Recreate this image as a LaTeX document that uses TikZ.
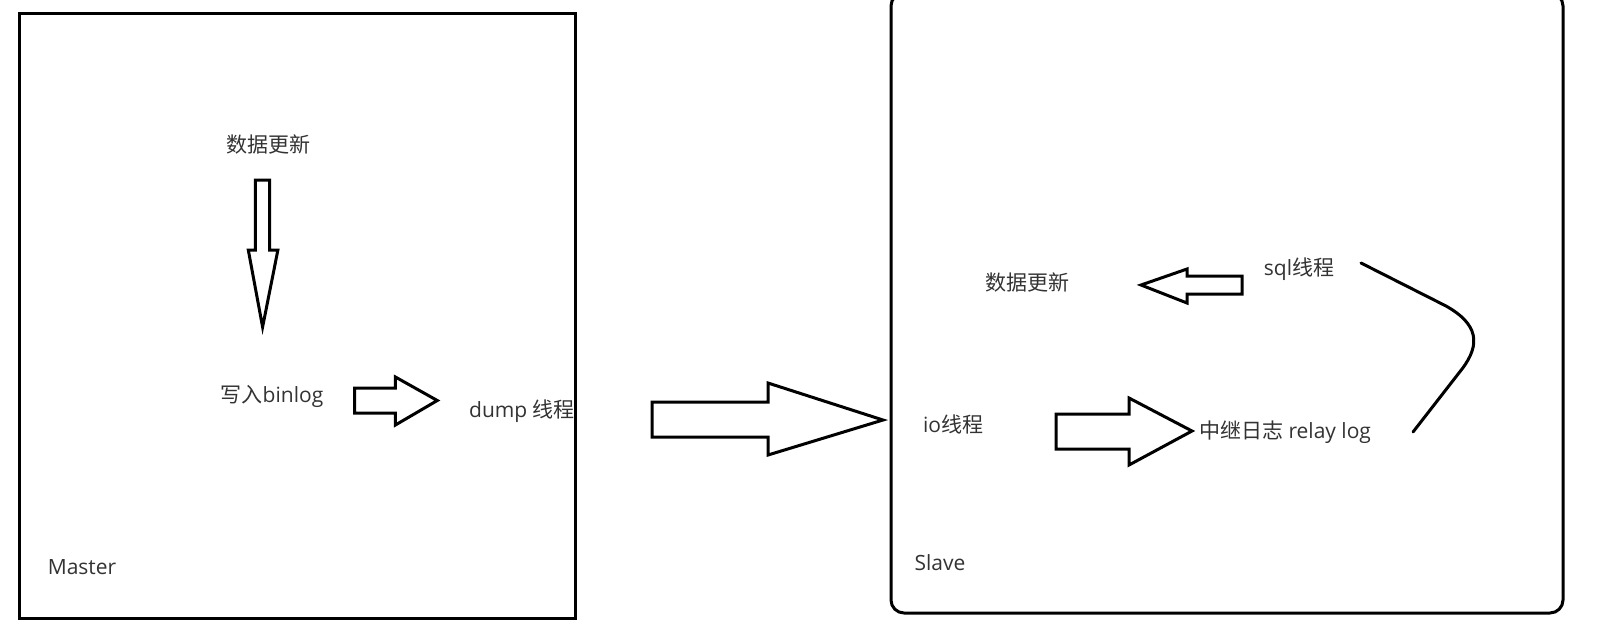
\documentclass[tikz,border=0pt]{standalone}
\usepackage{fontspec}
\setmainfont{Open Sans}
\newfontfamily\cjk{Noto Sans CJK SC}
\begin{document}
\begin{tikzpicture}[x=1pt,y=-1pt,
  frame/.style={draw=black, line width=3pt},
  blockarrow/.style={draw=black, line width=3pt, fill=white, line join=miter},
  lbl/.style={inner sep=0pt, text=black!80, font=\fontsize{21}{25}\selectfont}]
\useasboundingbox (0,0) rectangle (1602,641);
\fill[white] (0,0) rectangle (1602,641);
% frames
\draw[frame] (19.5,13.5) rectangle (575,618);
\begin{scope}
\clip (0,0) rectangle (1602,641);
\draw[frame, rounded corners=13pt] (891,-7) rectangle (1563,613);
\end{scope}
% Master side labels
\node[lbl] (mupd) at (268,145) {\cjk 数据更新};
\node[lbl] (mbin) at (272,396) {{\cjk 写入}binlog};
\node[lbl] (dump) at (522,411) {dump {\cjk 线程}};
\node[lbl] (master) at (82,567) {Master};
% Slave side labels
\node[lbl] (supd) at (1027,282) {\cjk 数据更新};
\node[lbl] (sql) at (1299,269) {sql{\cjk 线程}};
\node[lbl] (io) at (953,424) {io{\cjk 线程}};
\node[lbl] (relay) at (1285,432) {{\cjk 中继日志} relay log};
\node[lbl] (slave) at (940,563) {Slave};
% block arrows
\draw[blockarrow] (255.4,180) -- (269.7,180) -- (269.7,250) -- (277.9,250) -- (262.6,327) -- (248.3,250) -- (255.4,250) -- cycle;
\draw[blockarrow] (354.5,388) -- (395.4,388) -- (395.4,377) -- (437.3,400.5) -- (395.4,425) -- (395.4,413) -- (354.5,413) -- cycle;
\draw[blockarrow] (652,402) -- (768,402) -- (768,383) -- (883,420) -- (768,455) -- (768,437) -- (652,437) -- cycle;
\draw[blockarrow] (1242,276) -- (1187,276) -- (1187,269) -- (1141,285) -- (1187,303) -- (1187,294) -- (1242,294) -- cycle;
\draw[blockarrow] (1056,414) -- (1129,414) -- (1129,398) -- (1192,431) -- (1129,465) -- (1129,449) -- (1056,449) -- cycle;
% curve from sql thread to relay log
\coordinate (cs) at (1361,263);
\coordinate (c1) at (1446,306);
\coordinate (c2) at (1462,369);
\coordinate (ce) at (1413,432);
\draw[line width=3pt, line cap=round] (cs) -- (c1) .. controls (1478,324) and (1481,344) .. (c2) -- (ce);
\end{tikzpicture}
\end{document}
